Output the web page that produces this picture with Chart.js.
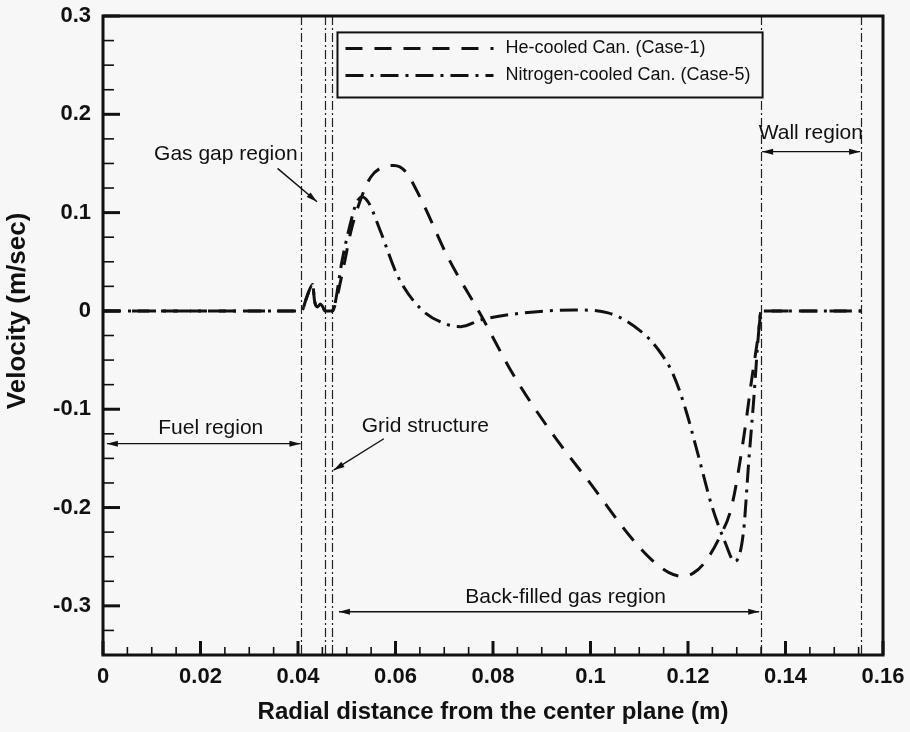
<!DOCTYPE html>
<html>
<head>
<meta charset="utf-8">
<script src="https://cdn.jsdelivr.net/npm/chart.js@4.4.1/dist/chart.umd.min.js"></script>
<style>
  html, body { margin: 0; padding: 0; background: #f7f7f7; }
</style>
</head>
<body>
<canvas id="velocityChart" width="910" height="732"></canvas>
<script>
// axis ticks
const xTicks = [0, 0.02, 0.04, 0.06, 0.08, 0.1, 0.12, 0.14, 0.16];
const yTicks = [-0.3, -0.2, -0.1, 0, 0.1, 0.2, 0.3];

// He-cooled canister (Case-1)
const heX = [0, 0.0407, 0.0418, 0.0430, 0.0434, 0.0440, 0.0446, 0.0452, 0.0455, 0.0470,
  0.0474, 0.0494, 0.0508, 0.0529, 0.0549, 0.0575, 0.0597, 0.0620, 0.0652, 0.0707,
  0.0776, 0.0843, 0.0919, 0.1002, 0.1084, 0.1125, 0.1160, 0.1187, 0.1210, 0.1234,
  0.1265, 0.1290, 0.1316, 0.1330, 0.1345, 0.1350, 0.1555];
const heV = [0, 0, 0.014, 0.027, 0.010, 0.004, 0.007, 0.003, 0, 0,
  0.003, 0.046, 0.080, 0.114, 0.136, 0.1465, 0.148, 0.142, 0.114, 0.055,
  -0.005, -0.066, -0.123, -0.177, -0.231, -0.253, -0.266, -0.270, -0.267, -0.256,
  -0.230, -0.198, -0.123, -0.072, -0.021, 0, 0];

// Nitrogen-cooled canister (Case-5)
const n2X = [0, 0.0407, 0.0418, 0.0430, 0.0434, 0.0440, 0.0446, 0.0452, 0.0455, 0.0470,
  0.0474, 0.0490, 0.0508, 0.0520, 0.0532, 0.0545, 0.0570, 0.0604, 0.0652, 0.0707,
  0.0734, 0.0776, 0.0864, 0.0967, 0.1036, 0.1104, 0.1140, 0.1170, 0.1195, 0.1220,
  0.1248, 0.1275, 0.1296, 0.1314, 0.1324, 0.1335, 0.1345, 0.1350, 0.1555];
const n2V = [0, 0, 0.014, 0.027, 0.010, 0.004, 0.007, 0.003, 0, 0,
  0.003, 0.050, 0.090, 0.110, 0.116, 0.110, 0.080, 0.036, 0.002, -0.014,
  -0.016, -0.009, -0.002, 0.001, -0.002, -0.021, -0.040, -0.065, -0.100, -0.145,
  -0.197, -0.234, -0.255, -0.224, -0.157, -0.089, -0.021, 0, 0];

const seriesLabels = ['He-cooled Can. (Case-1)', 'Nitrogen-cooled Can. (Case-5)'];

// region boundaries (m)
const regionBounds = [0.0407, 0.0455, 0.047, 0.135, 0.1555];
const regionLabels = ['Gas gap region', 'Fuel region', 'Grid structure', 'Back-filled gas region', 'Wall region'];

const ink = '#111';
const bg = '#f7f7f7';
const fontFamily = '"Liberation Sans", Arial, sans-serif';

// where the notes sit, in data units
const notes = [
  { text: 0, at: [0.0252, 0.159], arrow: [0.0358, 0.145, 0.0439, 0.111], both: false },
  { text: 1, at: [0.0221, -0.119], arrow: [0.0008, -0.135, 0.0405, -0.135], both: true },
  { text: 2, at: [0.0661, -0.117], arrow: [0.0576, -0.130, 0.0473, -0.162], both: false },
  { text: 3, at: [0.0949, -0.291], arrow: [0.0484, -0.306, 0.1346, -0.306], both: true },
  { text: 4, at: [0.1452, 0.181], arrow: [0.1352, 0.162, 0.1553, 0.162], both: true }
];

function fmt(v) {
  return String(Math.round(v * 1000) / 1000);
}

function arrowHead(ctx, x1, y1, x2, y2) {
  const a = Math.atan2(y2 - y1, x2 - x1);
  const len = 11, w = 3;
  ctx.beginPath();
  ctx.moveTo(x2, y2);
  ctx.lineTo(x2 - len * Math.cos(a) + w * Math.sin(a), y2 - len * Math.sin(a) - w * Math.cos(a));
  ctx.lineTo(x2 - len * Math.cos(a) - w * Math.sin(a), y2 - len * Math.sin(a) + w * Math.cos(a));
  ctx.closePath();
  ctx.fill();
}

const plotDecor = {
  id: 'plotDecor',
  beforeDraw(chart) {
    const ctx = chart.ctx;
    ctx.save();
    ctx.fillStyle = bg;
    ctx.fillRect(0, 0, chart.width, chart.height);
    ctx.restore();
  },
  beforeDatasetsDraw(chart) {
    const { ctx, chartArea: { top, bottom }, scales: { x } } = chart;
    ctx.save();
    ctx.strokeStyle = '#222';
    ctx.lineWidth = 1.2;
    ctx.setLineDash([9, 3, 2, 3]);
    regionBounds.forEach(v => {
      const px = Math.round(x.getPixelForValue(v)) + 0.5;
      ctx.beginPath();
      ctx.moveTo(px, top);
      ctx.lineTo(px, bottom);
      ctx.stroke();
    });
    ctx.restore();
  },
  afterDatasetsDraw(chart) {
    const { ctx, chartArea: { left, right, top, bottom }, scales: { x, y } } = chart;
    ctx.save();
    ctx.strokeStyle = ink;
    ctx.fillStyle = ink;
    ctx.setLineDash([]);

    // ticks, pointing inward
    const xMinor = [];
    for (let i = 0; i < xTicks.length - 1; i++) {
      const step = (xTicks[i + 1] - xTicks[i]) / 4;
      for (let k = 1; k < 4; k++) xMinor.push(xTicks[i] + k * step);
    }
    const yStep = (yTicks[1] - yTicks[0]) / 4;
    const yMinor = [];
    for (let i = 0; i < yTicks.length - 1; i++) {
      for (let k = 1; k < 4; k++) yMinor.push(yTicks[i] + k * yStep);
    }
    for (let v = yTicks[0] - yStep; v > y.min + 1e-9; v -= yStep) yMinor.push(v);

    ctx.lineWidth = 1.6;
    xMinor.forEach(v => {
      const px = x.getPixelForValue(v);
      ctx.beginPath(); ctx.moveTo(px, bottom); ctx.lineTo(px, bottom - 8); ctx.stroke();
    });
    yMinor.forEach(v => {
      const py = y.getPixelForValue(v);
      ctx.beginPath(); ctx.moveTo(left, py); ctx.lineTo(left + 11, py); ctx.stroke();
    });
    ctx.lineWidth = 3;
    xTicks.forEach(v => {
      const px = x.getPixelForValue(v);
      ctx.beginPath(); ctx.moveTo(px, bottom); ctx.lineTo(px, bottom - 14); ctx.stroke();
    });
    yTicks.forEach(v => {
      const py = y.getPixelForValue(v);
      ctx.beginPath(); ctx.moveTo(left, py); ctx.lineTo(left + 17, py); ctx.stroke();
    });

    // frame
    ctx.lineWidth = 3;
    ctx.strokeRect(left, top, right - left, bottom - top);

    // y axis title, sits a little above the middle in the original
    ctx.save();
    ctx.translate(18, y.getPixelForValue(0.0));
    ctx.rotate(-Math.PI / 2);
    ctx.font = 'bold 26px ' + fontFamily;
    ctx.textAlign = 'center';
    ctx.textBaseline = 'middle';
    ctx.fillText('Velocity (m/sec)', 0, 0);
    ctx.restore();

    // notes with arrows
    ctx.font = '21px ' + fontFamily;
    ctx.textAlign = 'center';
    ctx.textBaseline = 'middle';
    ctx.lineWidth = 1.4;
    notes.forEach(n => {
      ctx.fillText(regionLabels[n.text], x.getPixelForValue(n.at[0]), y.getPixelForValue(n.at[1]));
      const x1 = x.getPixelForValue(n.arrow[0]), y1 = y.getPixelForValue(n.arrow[1]);
      const x2 = x.getPixelForValue(n.arrow[2]), y2 = y.getPixelForValue(n.arrow[3]);
      ctx.beginPath(); ctx.moveTo(x1, y1); ctx.lineTo(x2, y2); ctx.stroke();
      arrowHead(ctx, x1, y1, x2, y2);
      if (n.both) arrowHead(ctx, x2, y2, x1, y1);
    });

    // legend box
    const bx1 = x.getPixelForValue(0.0481), bx2 = x.getPixelForValue(0.1353);
    const by1 = y.getPixelForValue(0.2833), by2 = y.getPixelForValue(0.2171);
    ctx.fillStyle = bg;
    ctx.fillRect(bx1, by1, bx2 - bx1, by2 - by1);
    ctx.lineWidth = 2;
    ctx.strokeRect(bx1, by1, bx2 - bx1, by2 - by1);
    ctx.fillStyle = ink;
    ctx.font = '18px ' + fontFamily;
    ctx.textAlign = 'left';
    chart.data.datasets.forEach((ds, i) => {
      const ly = by1 + 16 + i * 27;
      ctx.lineWidth = ds.borderWidth;
      ctx.setLineDash(ds.borderDash);
      ctx.beginPath(); ctx.moveTo(bx1 + 8, ly); ctx.lineTo(bx1 + 156, ly); ctx.stroke();
      ctx.setLineDash([]);
      ctx.fillText(ds.label, bx1 + 168, ly);
    });
    ctx.restore();
  }
};

const chart = new Chart(document.getElementById('velocityChart').getContext('2d'), {
  type: 'line',
  data: {
    datasets: [
      {
        label: seriesLabels[0],
        data: heX.map((v, i) => ({ x: v, y: heV[i] })),
        borderColor: ink,
        borderWidth: 3,
        borderDash: [17, 12],
        pointRadius: 0,
        fill: false,
        cubicInterpolationMode: 'monotone'
      },
      {
        label: seriesLabels[1],
        data: n2X.map((v, i) => ({ x: v, y: n2V[i] })),
        borderColor: ink,
        borderWidth: 3,
        borderDash: [18, 7, 3, 7],
        pointRadius: 0,
        fill: false,
        cubicInterpolationMode: 'monotone'
      }
    ]
  },
  options: {
    responsive: false,
    animation: false,
    devicePixelRatio: 1,
    layout: { padding: { left: 0, right: 27, top: 16, bottom: 0 } },
    scales: {
      x: {
        type: 'linear',
        min: 0,
        max: 0.16,
        afterBuildTicks: s => { s.ticks = xTicks.map(v => ({ value: v })); },
        afterFit: s => { s.height = 77; s.paddingLeft = 0; s.paddingRight = 0; },
        grid: { display: false, drawTicks: false },
        border: { display: false },
        ticks: {
          color: ink,
          padding: 9,
          maxRotation: 0,
          font: { family: fontFamily, size: 22, weight: 'bold' },
          callback: v => fmt(v)
        },
        title: {
          display: true,
          text: 'Radial distance from the center plane (m)',
          color: ink,
          font: { family: fontFamily, size: 24, weight: 'bold' },
          padding: { top: 0, bottom: 5 }
        }
      },
      y: {
        type: 'linear',
        min: -0.35,
        max: 0.3,
        afterBuildTicks: s => { s.ticks = yTicks.map(v => ({ value: v })); },
        afterFit: s => { s.width = 103; s.paddingTop = 0; s.paddingBottom = 0; },
        grid: { display: false, drawTicks: false },
        border: { display: false },
        ticks: {
          color: ink,
          padding: 12,
          font: { family: fontFamily, size: 22, weight: 'bold' },
          callback: v => fmt(v)
        },
        title: { display: false }
      }
    },
    plugins: {
      legend: { display: false },
      tooltip: { enabled: false }
    }
  },
  plugins: [plotDecor]
});
</script>
</body>
</html>
